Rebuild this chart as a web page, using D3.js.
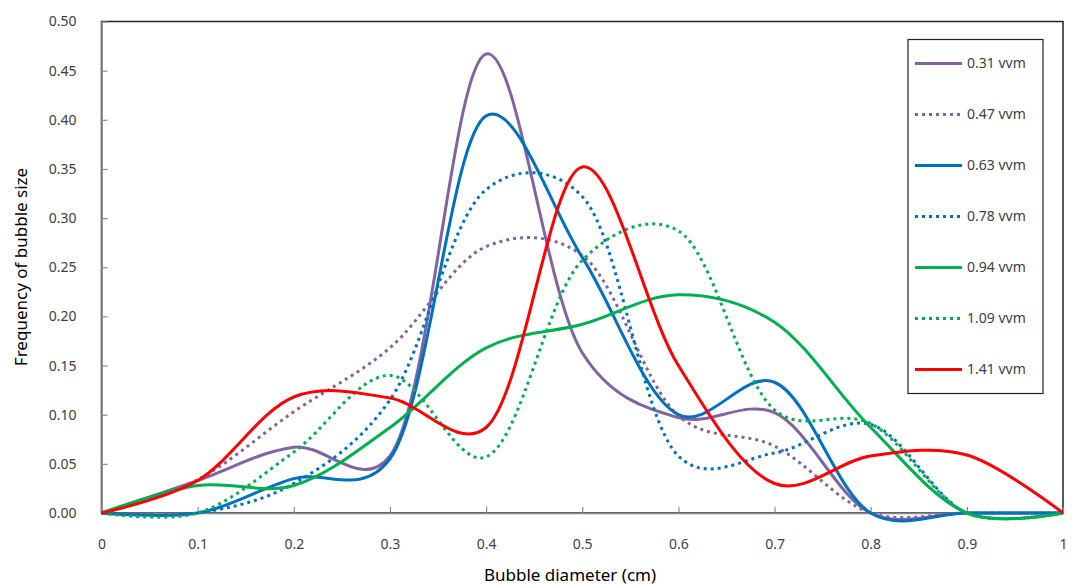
<!DOCTYPE html>
<html>
<head>
  <meta charset="utf-8">
  <title>Bubble size distribution</title>
  <script src="https://cdn.jsdelivr.net/npm/d3@7"></script>
  <style>
    body { margin: 0; background: #fff; }
    text { font-family: "Noto Sans", "Open Sans", sans-serif; }
  </style>
</head>
<body>
  <div id="chart"></div>
  <script>
    // bubble diameter bins (cm)
    const diameters = [0, 0.1, 0.2, 0.3, 0.4, 0.5, 0.6, 0.7, 0.8, 0.9, 1.0];

    // frequency per aeration rate
    const v031 = [0, 0.033, 0.067, 0.058, 0.467, 0.163, 0.097, 0.102, 0, 0, 0];
    const v047 = [0, 0.034, 0.103, 0.168, 0.271, 0.262, 0.099, 0.068, 0, 0, 0];
    const v063 = [0, 0, 0.035, 0.055, 0.404, 0.26, 0.1, 0.133, 0, 0, 0];
    const v078 = [0, 0, 0.03, 0.115, 0.329, 0.322, 0.058, 0.061, 0.09, 0, 0];
    const v094 = [0, 0.028, 0.028, 0.087, 0.168, 0.192, 0.222, 0.194, 0.087, 0, 0];
    const v109 = [0, 0, 0.062, 0.14, 0.057, 0.257, 0.287, 0.105, 0.091, 0, 0];
    const v141 = [0, 0.033, 0.118, 0.117, 0.087, 0.352, 0.15, 0.03, 0.058, 0.059, 0];

    const seriesNames = ["0.31 vvm", "0.47 vvm", "0.63 vvm", "0.78 vvm", "0.94 vvm", "1.09 vvm", "1.41 vvm"];
    const seriesValues = [v031, v047, v063, v078, v094, v109, v141];
    const seriesColors = ["#8064A2", "#8064A2", "#0070C0", "#0070C0", "#00B050", "#00B050", "#FF0000"];
    const seriesDotted = [false, true, false, true, false, true, false];

    const xTicks = [0, 0.1, 0.2, 0.3, 0.4, 0.5, 0.6, 0.7, 0.8, 0.9, 1];
    const yTicks = [0, 0.05, 0.1, 0.15, 0.2, 0.25, 0.3, 0.35, 0.4, 0.45, 0.5];

    const width = 1072, height = 586;
    const margins = { top: 21.5, right: 9, bottom: 73, left: 101.5 };

    const x = d3.scaleLinear()
        .domain([0, 1])
        .range([margins.left, width - margins.right]);

    const y = d3.scaleLinear()
        .domain([0, 0.5])
        .range([height - margins.bottom, margins.top]);

    const svg = d3.select("#chart").append("svg")
        .attr("width", width)
        .attr("height", height);

    // plot area frame (top and right edges dark)
    svg.append("rect")
        .attr("x", x(0))
        .attr("y", y(0.5))
        .attr("width", x(1) - x(0))
        .attr("height", y(0) - y(0.5))
        .attr("fill", "none")
        .attr("stroke", "#222")
        .attr("stroke-width", 1.5);

    // y axis
    const yAxis = svg.append("g")
        .attr("transform", `translate(${x(0)},0)`)
        .call(d3.axisLeft(y).tickValues(yTicks).tickFormat(d3.format(".2f"))
          .tickSizeInner(-6).tickSizeOuter(0).tickPadding(25));
    yAxis.select(".domain").attr("stroke", "#8a8a8a").attr("stroke-width", 1.5);
    yAxis.selectAll(".tick line").attr("stroke", "#8a8a8a").attr("stroke-width", 1.2);
    yAxis.selectAll(".tick text").attr("fill", "#404040").style("font-size", "14px");

    // x axis
    const xAxis = svg.append("g")
        .attr("transform", `translate(0,${y(0)})`)
        .call(d3.axisBottom(x).tickValues(xTicks).tickFormat(d => d3.format("")(d))
          .tickSizeInner(-6).tickSizeOuter(0).tickPadding(26));
    xAxis.select(".domain").attr("stroke", "#8a8a8a").attr("stroke-width", 1.5);
    xAxis.selectAll(".tick line").attr("stroke", "#8a8a8a").attr("stroke-width", 1.2);
    xAxis.selectAll(".tick text").attr("fill", "#404040").style("font-size", "14px");

    // axis titles
    svg.append("text")
        .attr("x", 570)
        .attr("y", 581)
        .attr("text-anchor", "middle")
        .style("font-size", "17px")
        .attr("fill", "#000")
        .text("Bubble diameter (cm)");

    svg.append("text")
        .attr("transform", "translate(27,267) rotate(-90)")
        .attr("text-anchor", "middle")
        .style("font-size", "17px")
        .attr("fill", "#000")
        .text("Frequency of bubble size");

    // smoothed lines (close to Excel's smoothed line)
    const line = d3.line()
        .x((d, i) => x(diameters[i]))
        .y(d => y(d))
        .curve(d3.curveCatmullRom.alpha(0.25));

    svg.selectAll(".series")
        .data(seriesValues)
        .enter().append("path")
        .attr("class", "series")
        .attr("d", d => line(d))
        .attr("fill", "none")
        .attr("stroke", (d, i) => seriesColors[i])
        .attr("stroke-width", 3)
        .attr("stroke-dasharray", (d, i) => seriesDotted[i] ? "3,4" : null)
        .attr("stroke-linejoin", "round");

    // legend
    const legend = svg.append("g").attr("transform", "translate(908,39.5)");
    legend.append("rect")
        .attr("width", 135)
        .attr("height", 354)
        .attr("fill", "#fff")
        .attr("stroke", "#222")
        .attr("stroke-width", 1.2);

    const rows = legend.selectAll(".row")
        .data(seriesNames)
        .enter().append("g")
        .attr("class", "row")
        .attr("transform", (d, i) => `translate(0,${24 + i * 51})`);

    rows.append("line")
        .attr("x1", 7)
        .attr("x2", 54)
        .attr("stroke", (d, i) => seriesColors[i])
        .attr("stroke-width", 3)
        .attr("stroke-dasharray", (d, i) => seriesDotted[i] ? "3,4" : null);

    rows.append("text")
        .attr("x", 59)
        .attr("dy", "0.35em")
        .attr("fill", "#404040")
        .style("font-size", "14px")
        .text(d => d);
  </script>
</body>
</html>
